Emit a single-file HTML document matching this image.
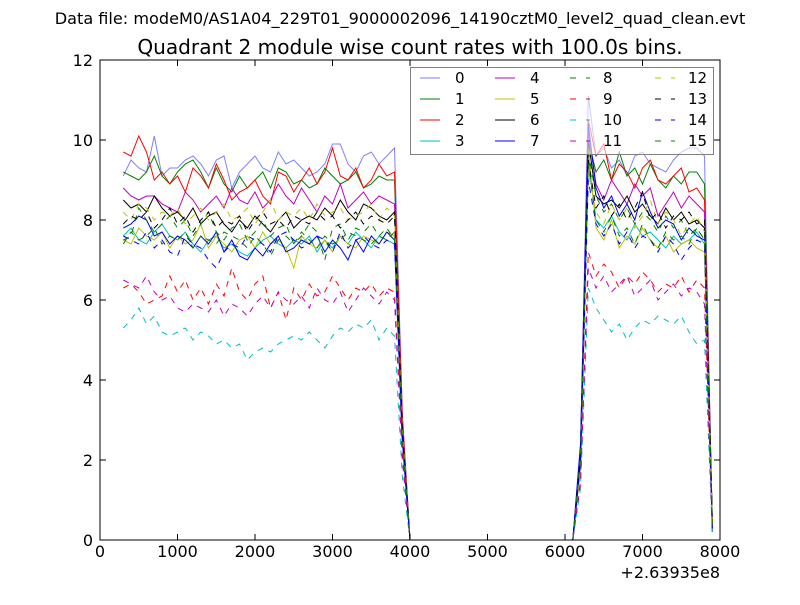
<!DOCTYPE html>
<html><head><meta charset="utf-8"><style>
body{margin:0;background:#fff;}
svg text{font-family:"DejaVu Sans","Liberation Sans",sans-serif;}
</style></head><body>
<svg id="chart" width="800" height="600" xmlns="http://www.w3.org/2000/svg">
<rect width="800" height="600" fill="#fff"/>
<text x="400" y="24" text-anchor="middle" font-size="16.1">Data file: modeM0/AS1A04_229T01_9000002096_14190cztM0_level2_quad_clean.evt</text>
<text x="410" y="54" text-anchor="middle" font-size="20.1">Quadrant 2 module wise count rates with 100.0s bins.</text>
<g id="lines"></g>
<rect x="100" y="60" width="620" height="480" fill="none" stroke="#000"/>
<g id="ticks"></g>
<text x="720" y="578" text-anchor="end" font-size="16">+2.63935e8</text>
<g id="legend"></g>
</svg>
<script>
const left = [
[9.1,9.5,9.3,9.2,10.1,9.1,9.3,9.3,9.5,9.6,9.4,9.1,9.5,9.6,8.8,9.2,9.4,9.6,9.3,9.2,9.7,9.4,9.5,9.3,9.1,9.2,9.4,9.9,9.9,9.4,9.2,9.6,9.7,9.4,9.6,9.8],
[9.2,9.1,9.0,9.2,9.6,9.1,8.9,9.2,9.4,9.5,9.2,8.8,9.3,8.9,8.7,9.1,8.8,9.0,9.2,8.8,9.3,9.2,8.9,9.0,8.8,8.9,9.3,9.1,8.9,9.0,9.2,8.8,8.9,9.1,9.0,9.0],
[9.7,9.6,10.1,9.7,9.0,9.2,8.9,9.1,8.7,9.3,9.1,8.8,9.4,9.0,8.5,8.7,8.8,9.0,8.6,8.4,9.2,9.1,8.7,9.0,9.3,8.9,9.2,9.8,9.1,9.0,9.3,8.8,9.0,9.4,9.1,9.2],
[7.6,7.8,7.5,7.4,7.7,7.9,7.6,7.5,7.7,7.4,7.2,7.5,7.6,7.3,7.4,7.2,7.1,7.3,7.5,7.6,7.4,7.3,7.5,7.4,7.6,7.2,7.5,7.3,7.6,7.4,7.7,7.5,7.3,7.6,7.5,7.4],
[8.8,8.6,8.5,8.6,8.6,8.4,8.3,8.2,8.7,8.5,8.2,8.4,8.6,8.3,8.8,8.5,8.4,8.7,8.3,8.5,8.9,8.6,8.4,8.8,8.5,8.2,8.6,8.4,8.9,8.3,8.5,8.7,8.4,8.6,8.5,8.4],
[7.5,7.4,7.8,7.6,7.5,7.7,7.3,7.6,7.4,7.5,7.9,7.3,7.6,7.4,7.2,7.5,7.6,7.3,7.7,7.4,7.5,7.3,6.8,7.6,7.4,7.3,7.5,7.2,7.6,7.4,7.3,7.6,7.5,7.4,7.7,7.6],
[8.5,8.3,8.4,8.2,8.6,8.3,8.1,8.2,8.0,8.3,7.9,8.1,8.2,7.9,7.7,8.0,7.8,8.1,7.9,7.7,8.0,8.2,7.8,8.0,8.1,8.0,8.3,8.1,8.5,8.2,8.0,8.4,8.3,8.1,8.0,8.2],
[7.8,7.9,8.1,8.0,7.6,7.7,7.4,7.6,7.5,7.3,7.6,7.4,7.7,7.2,7.5,7.1,7.0,7.3,7.1,7.4,7.6,7.2,7.3,7.5,7.4,7.6,7.2,7.5,7.3,7.0,7.5,7.2,7.6,7.4,7.7,7.5],
[7.5,7.6,8.3,8.0,7.7,7.9,8.1,7.8,8.0,7.6,7.9,8.2,7.7,7.5,7.8,7.9,7.5,7.7,8.0,7.6,7.8,7.9,7.4,7.6,7.9,7.7,7.0,7.8,7.9,7.5,7.8,7.7,7.9,7.6,7.8,7.5],
[6.3,6.4,6.2,5.9,6.0,6.1,6.6,6.2,6.5,6.0,6.3,5.9,6.4,6.1,6.8,6.2,6.0,6.4,6.6,5.8,6.2,5.5,6.3,6.0,6.4,6.1,6.2,6.6,6.3,6.0,6.3,6.2,6.4,6.1,6.3,6.2],
[5.3,5.5,5.8,5.4,5.6,5.2,5.1,5.2,5.3,5.0,5.2,5.1,4.9,5.0,4.8,4.9,4.5,4.7,4.8,4.7,4.9,5.0,5.1,5.0,5.2,5.0,4.8,5.1,5.3,5.2,5.4,5.3,5.5,5.0,5.3,5.1],
[6.5,6.4,6.3,6.6,6.2,6.0,6.1,5.8,5.7,5.9,5.8,5.7,6.0,5.6,5.9,5.8,5.6,5.9,6.1,5.8,6.2,6.0,5.9,6.1,5.8,6.3,6.0,5.9,6.2,5.7,6.0,6.3,6.1,5.9,6.2,6.0],
[8.2,8.0,8.4,8.3,8.0,8.2,8.1,8.3,7.9,8.1,8.3,8.0,8.2,8.4,8.0,8.1,8.3,7.9,8.2,8.5,8.0,8.2,8.1,8.3,8.0,8.4,8.1,8.2,8.3,8.0,8.1,8.2,8.4,8.0,8.3,8.1],
[7.9,8.1,8.0,8.2,7.8,8.0,8.3,7.9,8.1,7.7,8.0,8.2,7.8,8.0,7.9,8.1,7.7,8.0,8.2,7.9,8.0,7.8,8.1,8.0,7.9,8.2,8.0,8.1,7.8,8.0,8.2,7.9,8.1,8.0,7.9,8.1],
[7.6,7.5,7.4,7.7,7.3,7.5,7.2,7.1,7.6,7.4,7.3,7.0,6.8,7.2,7.4,7.3,7.6,7.5,7.4,7.2,7.6,7.7,7.5,7.3,7.4,7.6,7.5,7.2,7.7,7.3,7.5,7.6,7.4,7.3,7.5,7.4],
[7.4,7.7,7.5,7.6,7.8,7.4,7.6,7.5,7.7,7.3,7.6,7.5,7.4,7.7,7.6,7.5,7.3,7.6,7.4,7.1,7.5,7.6,7.4,7.7,7.5,7.3,7.6,7.4,7.5,7.7,7.6,7.5,7.4,7.6,7.5,7.7]
];
const right = [
[11.1,9.6,9.8,9.3,9.5,9.1,9.6,9.7,9.4,9.3,9.2,9.5,9.7,9.8,9.8,9.6],
[10.0,9.2,9.5,9.0,9.7,9.1,9.3,8.9,9.4,9.0,8.8,9.1,8.9,9.2,9.2,8.9],
[10.5,9.6,9.9,9.0,9.4,9.2,8.8,9.3,9.5,9.0,8.9,9.1,9.3,8.7,8.8,8.5],
[9.5,8.0,7.8,8.1,7.7,7.5,7.9,7.6,7.7,7.5,7.3,7.6,7.4,7.5,7.7,7.4],
[10.2,8.9,8.5,9.0,8.7,8.4,8.9,8.6,8.8,8.1,8.4,8.7,8.3,8.6,8.4,8.2],
[9.8,7.8,7.5,8.0,7.3,7.6,7.4,7.8,7.5,7.3,7.6,7.2,7.4,7.5,7.3,7.2],
[10.0,8.6,8.4,8.5,8.3,8.6,8.2,8.4,8.1,7.9,8.3,8.0,8.2,7.9,8.0,7.8],
[10.4,8.8,8.3,8.6,8.1,8.4,8.0,8.7,8.2,7.8,8.0,7.9,7.5,7.8,7.6,7.5],
[9.7,8.6,8.2,8.4,8.0,8.3,7.9,8.2,8.0,7.7,8.1,7.8,8.0,7.6,7.8,7.5],
[7.2,6.6,6.9,6.7,6.3,6.6,6.4,6.7,6.5,6.2,6.4,6.3,6.6,6.2,6.5,6.3],
[6.3,5.8,5.5,5.2,5.4,5.0,5.3,5.5,5.4,5.6,5.5,5.4,5.6,5.2,4.9,5.0],
[6.8,6.3,6.6,6.2,6.4,6.6,6.1,6.3,6.5,6.0,6.2,6.4,6.1,6.3,6.2,5.9],
[9.2,8.2,7.9,8.4,8.0,8.3,7.8,8.1,8.5,7.9,8.2,8.0,7.6,7.9,8.1,7.7],
[9.5,8.3,8.6,8.1,8.4,8.0,8.3,8.7,8.0,8.2,7.8,8.1,8.0,8.2,7.9,8.0],
[9.0,7.9,7.6,7.9,7.4,7.7,7.3,7.6,7.5,7.2,7.6,7.4,7.0,7.3,7.5,7.4],
[9.4,8.0,7.7,8.1,7.6,7.8,7.4,7.9,7.5,7.3,7.7,7.5,7.6,7.4,7.8,7.5]
];
const edge3900 = [3.2,3.0,3.1,2.6,2.9,2.7,2.8,2.5,2.7,2.2,1.6,2.0,2.8,2.7,2.5,2.6];
const edge6200 = [2.3,2.0,2.2,1.9,2.1,1.8,2.0,2.4,2.1,1.5,1.3,1.4,2.0,2.1,1.9,2.0];
const edge7900 = [0.3,0.4,0.5,0.2,0.4,0.3,0.5,0.2,0.4,0.3,0.2,0.3,0.4,0.5,0.3,0.4];
const gap = [0,0,0,0,0,0,0,0,0,0,0,0,0,0,0,0,0,0,0,0,0,0];
const xTicks = [0,1000,2000,3000,4000,5000,6000,7000,8000];
const yTicks = [0,2,4,6,8,10,12];
const seriesNames = ["0","1","2","3","4","5","6","7","8","9","10","11","12","13","14","15"];
const colors = ["#0000ff","#008000","#ff0000","#00bfbf","#bf00bf","#bfbf00","#000000"];
const t0 = 300, dt = 100;

const NS="http://www.w3.org/2000/svg";
const X = v => 100 + v*620/8000;
const Y = v => 540 - v*480/12;

const lg = document.getElementById('lines');
for(let s=0;s<16;s++){
  const vals = left[s].concat([edge3900[s]], gap, [edge6200[s]], right[s], [edge7900[s]]);
  const pts = vals.map((v,i)=>X(t0+i*dt).toFixed(1)+','+Y(v).toFixed(1)).join(' ');
  const p = document.createElementNS(NS,'polyline');
  p.setAttribute('points',pts);
  p.setAttribute('fill','none');
  p.setAttribute('stroke',colors[s%7]);
  p.setAttribute('stroke-width','1');
  if(s>=8) p.setAttribute('stroke-dasharray','6,6');
  if(s===0) p.setAttribute('stroke-opacity','0.5');
  
  
  lg.appendChild(p);
}

const tg = document.getElementById('ticks');
xTicks.forEach(v=>{
  const x=X(v);
  tg.insertAdjacentHTML('beforeend',`<line x1="${x}" y1="540" x2="${x}" y2="534" stroke="#000"/><line x1="${x}" y1="60" x2="${x}" y2="66" stroke="#000"/>`);
  const t=document.createElementNS(NS,'text');
  t.setAttribute('x',x);t.setAttribute('y',557);t.setAttribute('text-anchor','middle');t.setAttribute('font-size','16');
  t.textContent=v;
  
  
  tg.appendChild(t);
});
yTicks.forEach(v=>{
  const y=Y(v);
  tg.insertAdjacentHTML('beforeend',`<line x1="100" y1="${y}" x2="106" y2="${y}" stroke="#000"/><line x1="720" y1="${y}" x2="714" y2="${y}" stroke="#000"/>`);
  const t=document.createElementNS(NS,'text');
  t.setAttribute('x',93);t.setAttribute('y',y+6);t.setAttribute('text-anchor','end');t.setAttribute('font-size','16');
  t.textContent=v;
  
  
  tg.appendChild(t);
});

const leg = document.getElementById('legend');
leg.insertAdjacentHTML('beforeend','<rect x="410.5" y="67.5" width="303" height="87" fill="#fff" fill-opacity="0.6" stroke="#808080"/>');
const colX=[420,495,570,655], labX=[455,530,603,688];
for(let s=0;s<16;s++){
  const c=Math.floor(s/4), r=s%4, y=78+r*21;
  const l=document.createElementNS(NS,'line');
  l.setAttribute('x1',colX[c]);l.setAttribute('x2',colX[c]+20);l.setAttribute('y1',y);l.setAttribute('y2',y);
  l.setAttribute('stroke',colors[s%7]);
  if(s>=8) l.setAttribute('stroke-dasharray','6,10');
  if(s===0) l.setAttribute('stroke-opacity','0.5');
  
  
  leg.appendChild(l);
  const t=document.createElementNS(NS,'text');
  t.setAttribute('x',labX[c]);t.setAttribute('y',y+5);t.setAttribute('font-size','15');
  t.textContent=seriesNames[s];
  
  
  leg.appendChild(t);
}
</script>
</body></html>
